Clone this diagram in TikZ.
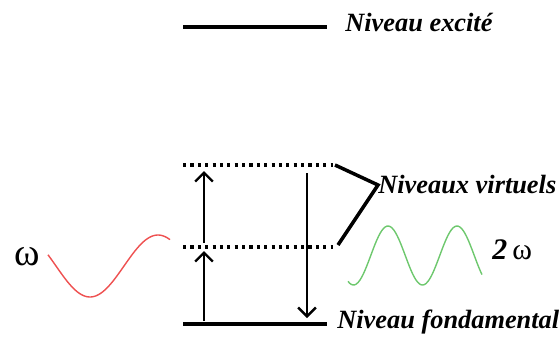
\documentclass[tikz,border=0pt]{standalone}
\usepackage{fontspec}
\setmainfont{Liberation Serif}
\usetikzlibrary{arrows.meta}
\definecolor{wavered}{RGB}{238,80,80}
\definecolor{wavegreen}{RGB}{110,200,110}
\tikzset{
  level/.style={line width=2.3pt},
  virtual/.style={line width=1.8pt,dash pattern=on 1.8pt off 2.4pt},
  transition/.style={line width=1.4pt,-{Straight Barb[length=5pt,width=10pt,line width=1.4pt]}},
  label/.style={anchor=west,inner sep=0pt,font=\fontsize{15}{18}\selectfont\bfseries\itshape},
}

\begin{document}
\begin{tikzpicture}
    \useasboundingbox (0,0) rectangle (11.2,6.86);
    % levels
    \draw[level] (3.66,6.32) -- (6.54,6.32);
    \draw[virtual] (3.66,3.56) -- (6.66,3.56);
    \draw[virtual] (3.66,1.92) -- (6.66,1.92);
    \draw[level] (3.66,0.38) -- (6.54,0.38);
    \node[label] (excite) at (6.9,6.42) {Niveau excité};
    \node[label] (virtuels) at (7.56,3.16) {Niveaux virtuels};
    \node[label] (fondamental) at (6.74,0.42) {Niveau fondamental};
    % transitions
    \coordinate (a0) at (4.08,0.44);
    \coordinate (a1) at (4.08,1.84);
    \coordinate (b0) at (4.08,2.0);
    \coordinate (b1) at (4.08,3.44);
    \coordinate (c0) at (6.14,3.4);
    \coordinate (c1) at (6.14,0.5);
    \draw[transition] (a0) -- (a1);
    \draw[transition] (b0) -- (b1);
    \draw[transition] (c0) -- (c1);
    % bracket
    \coordinate (h) at (6.7,3.56);
    \coordinate (l) at (6.76,1.96);
    \draw[line width=2pt] (h) -- (virtuels.west) -- (l);
    % waves
    \draw[wavered,line width=0.8pt,domain=0.96:3.4,samples=80]
      plot ({\x},{1.54-0.62*cos(360*(\x-1.8)/2.72)});
    \draw[wavegreen,line width=0.8pt,domain=6.96:9.64,samples=80]
      plot ({\x},{1.75+0.59*cos(360*(\x-7.76)/1.38)});
    \node[inner sep=0pt,font=\fontsize{22}{24}\selectfont] (omega) at (0.55,1.72) {ω};
    \node[inner sep=0pt,anchor=west,font=\fontsize{17}{20}\selectfont] (deuxomega) at (9.84,1.86) {\textbf{\textit{2}}\,ω};
\end{tikzpicture}
\end{document}
